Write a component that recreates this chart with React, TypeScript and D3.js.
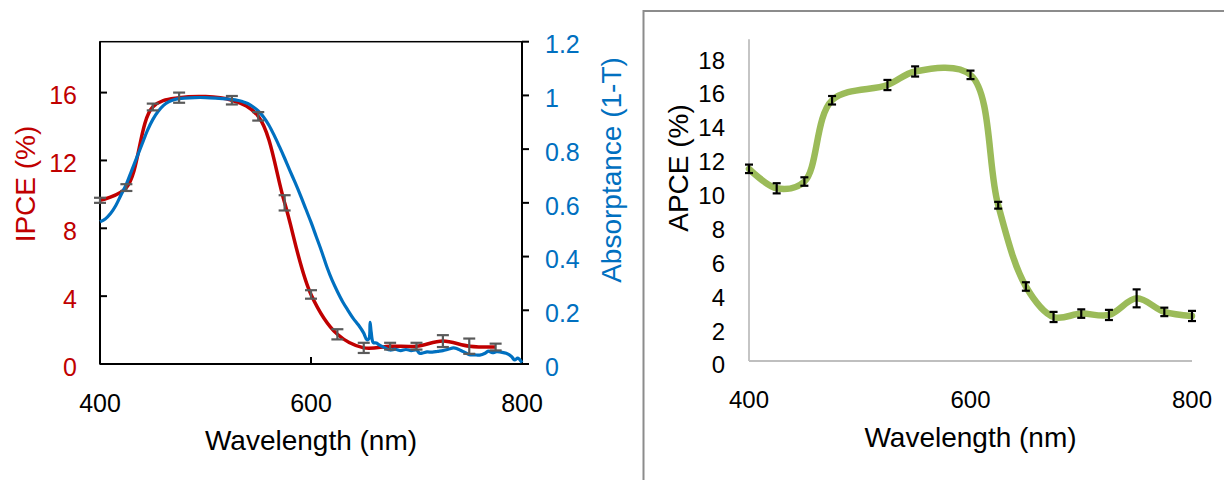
import React from "react";
import * as d3 from "d3";

// ---------- Left chart data ----------
const ipceWl = [400, 425, 450, 475, 525, 550, 575, 600, 625, 650, 675, 700, 725, 750, 775];
const ipceVal = [9.65, 10.4, 15.15, 15.7, 15.55, 14.6, 9.5, 4.1, 1.75, 0.95, 1.05, 1.05, 1.35, 1.05, 1.0];
const ipceErr = [0.15, 0.2, 0.2, 0.3, 0.25, 0.25, 0.45, 0.25, 0.3, 0.3, 0.2, 0.2, 0.35, 0.45, 0.2];

const absWl = [400, 405, 410, 415, 420, 425, 430, 435, 440, 445, 450, 455, 460, 465, 470, 475, 480, 490, 500, 510, 520, 530, 535, 540, 545, 550, 555, 560, 565, 570, 575, 580, 585, 590, 595, 600, 605, 610, 615, 620, 625, 630, 635, 640, 645, 650, 653, 655, 656, 657, 659, 662, 665, 670, 675, 680, 685, 690, 695, 700, 703, 706, 710, 715, 720, 725, 730, 735, 738, 742, 745, 750, 755, 760, 765, 768, 772, 776, 780, 785, 790, 793, 796, 800];
const absVal = [0.53, 0.54, 0.56, 0.59, 0.63, 0.67, 0.72, 0.77, 0.82, 0.87, 0.91, 0.94, 0.962, 0.976, 0.984, 0.988, 0.99, 0.992, 0.992, 0.99, 0.987, 0.982, 0.977, 0.97, 0.958, 0.942, 0.92, 0.89, 0.852, 0.81, 0.766, 0.72, 0.675, 0.628, 0.578, 0.528, 0.474, 0.42, 0.362, 0.312, 0.27, 0.232, 0.2, 0.17, 0.145, 0.115, 0.09, 0.095, 0.155, 0.12, 0.08, 0.078, 0.07, 0.06, 0.052, 0.055, 0.05, 0.054, 0.05, 0.052, 0.04, 0.041, 0.045, 0.044, 0.047, 0.05, 0.055, 0.06, 0.058, 0.05, 0.045, 0.035, 0.034, 0.033, 0.04, 0.048, 0.042, 0.046, 0.044, 0.04, 0.028, 0.015, 0.022, 0.005];

const leftXTicks = [400, 600, 800];
const ipceTicks = [0, 4, 8, 12, 16];
const absTicks = [0, 0.2, 0.4, 0.6, 0.8, 1.0, 1.2];
const absTickLabels = ["0", "0.2", "0.4", "0.6", "0.8", "1", "1.2"];

// ---------- Right chart data ----------
const apceWl = [400, 425, 450, 475, 525, 550, 600, 625, 650, 675, 700, 725, 750, 775, 800];
const apceVal = [11.35, 10.2, 10.6, 15.4, 16.3, 17.1, 16.9, 9.2, 4.4, 2.6, 2.8, 2.72, 3.7, 2.9, 2.66];
const apceErr = [0.25, 0.3, 0.25, 0.25, 0.3, 0.3, 0.25, 0.2, 0.25, 0.3, 0.25, 0.3, 0.53, 0.25, 0.3];
const rightXTicks = [400, 600, 800];
const apceTicks = [0, 2, 4, 6, 8, 10, 12, 14, 16, 18];

const FONT = "'Liberation Sans', Arial, sans-serif";
const RED = "#C00000";
const BLUE = "#0070C0";
const GREEN = "#9BBB59";

export default function App() {
  // left scales
  const xL = d3.scaleLinear().domain([400, 800]).range([100, 522]);
  const yIpce = d3.scaleLinear().domain([0, 19]).range([364, 41.7]);
  const yAbs = d3.scaleLinear().domain([0, 1.2]).range([364, 41.7]);

  const redLine = d3
    .line<number>()
    .x((_, i) => xL(ipceWl[i]))
    .y((d) => yIpce(d))
    .curve(d3.curveCatmullRom.alpha(0.5))(ipceVal) as string;
  const blueLine = d3
    .line<number>()
    .x((_, i) => xL(absWl[i]))
    .y((d) => yAbs(d))
    .curve(d3.curveCatmullRom.alpha(0.5))(absVal) as string;

  // right scales
  const xR = d3.scaleLinear().domain([400, 800]).range([749, 1192]);
  const yApce = d3.scaleLinear().domain([0, 19]).range([361, 39.3]);
  const greenLine = d3
    .line<number>()
    .x((_, i) => xR(apceWl[i]))
    .y((d) => yApce(d))
    .curve(d3.curveCatmullRom.alpha(0.5))(apceVal) as string;

  return (
    <svg
      width={1224}
      height={480}
      style={{ position: "absolute", left: 0, top: 0, background: "#fff" }}
      fontFamily={FONT}
    >
      <rect x={0} y={0} width={1224} height={480} fill="#fff" />
      {/* ===== LEFT CHART ===== */}
      <g>
        <rect x={xL(400)} y={yAbs(1.2)} width={xL(800) - xL(400)} height={yAbs(0) - yAbs(1.2)} fill="none" stroke="#000" strokeWidth={1.5} />
        <line x1={xL(400)} x2={xL(800)} y1={yIpce(0)} y2={yIpce(0)} stroke="#000" strokeWidth={2} />
        <line x1={xL(400)} x2={xL(400)} y1={yAbs(0)} y2={yAbs(1.2)} stroke="#000" strokeWidth={2} />
        <line x1={xL(800)} x2={xL(800)} y1={yAbs(0)} y2={yAbs(1.2)} stroke="#000" strokeWidth={2} />
        {ipceTicks.map((t) => (
          <g key={"lt" + t}>
            <line x1={xL(400)} x2={xL(400) + 7} y1={yIpce(t)} y2={yIpce(t)} stroke="#000" strokeWidth={2} />
            <text x={77} y={yIpce(t) + 3} dy="0.35em" textAnchor="end" fontSize={25} fill={RED}>
              {t}
            </text>
          </g>
        ))}
        {absTicks.map((t, i) => (
          <g key={"rt" + t}>
            <line x1={xL(800)} x2={xL(800) + 7} y1={yAbs(t)} y2={yAbs(t)} stroke="#000" strokeWidth={2} />
            <text x={545} y={yAbs(t) + 3} dy="0.35em" textAnchor="start" fontSize={25} fill={BLUE}>
              {absTickLabels[i]}
            </text>
          </g>
        ))}
        {leftXTicks.map((t) => (
          <g key={"bt" + t}>
            <line x1={xL(t)} x2={xL(t)} y1={yIpce(0)} y2={yIpce(0) - 7} stroke="#000" strokeWidth={2} />
            <text x={xL(t)} y={412} textAnchor="middle" fontSize={25} fill="#000">
              {t}
            </text>
          </g>
        ))}
        <path d={redLine} fill="none" stroke={RED} strokeWidth={3.5} />
        <path d={blueLine} fill="none" stroke={BLUE} strokeWidth={3.2} strokeLinejoin="round" />
        {ipceWl.map((w, i) => {
          const x = xL(w);
          const y1 = yIpce(ipceVal[i] - ipceErr[i]);
          const y2 = yIpce(ipceVal[i] + ipceErr[i]);
          return (
            <g key={"eb" + w} stroke="#5a5a5a" strokeWidth={2.2}>
              <line x1={x} x2={x} y1={y1} y2={y2} />
              <line x1={x - 6} x2={x + 6} y1={y1} y2={y1} />
              <line x1={x - 6} x2={x + 6} y1={y2} y2={y2} />
            </g>
          );
        })}
        <text x={(xL(400) + xL(800)) / 2} y={450} textAnchor="middle" fontSize={28} fill="#000">
          Wavelength (nm)
        </text>
        <text transform={`translate(35,184) rotate(-90)`} textAnchor="middle" fontSize={28} fill={RED}>
          IPCE (%)
        </text>
        <text transform={`translate(621,170) rotate(-90)`} textAnchor="middle" fontSize={28} fill={BLUE}>
          Absorptance (1-T)
        </text>
      </g>

      {/* ===== RIGHT CHART ===== */}
      <g>
        <rect x={643.5} y={11} width={700} height={600} fill="none" stroke="#8c8c8c" strokeWidth={2} />
        <line x1={xR(400)} x2={xR(400)} y1={yApce(0)} y2={yApce(19)} stroke="#BFBFBF" strokeWidth={1.8} />
        <line x1={xR(400)} x2={xR(800)} y1={yApce(0)} y2={yApce(0)} stroke="#BFBFBF" strokeWidth={1.8} />
        {apceTicks.map((t) => (
          <text key={"at" + t} x={725} y={yApce(t) + 4} dy="0.35em" textAnchor="end" fontSize={24} fill="#000">
            {t}
          </text>
        ))}
        {rightXTicks.map((t) => (
          <text key={"rx" + t} x={xR(t)} y={408} textAnchor="middle" fontSize={24} fill="#000">
            {t}
          </text>
        ))}
        <path d={greenLine} fill="none" stroke={GREEN} strokeWidth={6.5} strokeLinecap="round" />
        {apceWl.map((w, i) => {
          const x = xR(w);
          const y1 = yApce(apceVal[i] - apceErr[i]);
          const y2 = yApce(apceVal[i] + apceErr[i]);
          return (
            <g key={"ge" + w} stroke="#000" strokeWidth={2.2}>
              <line x1={x} x2={x} y1={y1} y2={y2} />
              <line x1={x - 4} x2={x + 4} y1={y1} y2={y1} />
              <line x1={x - 4} x2={x + 4} y1={y2} y2={y2} />
            </g>
          );
        })}
        <text x={(xR(400) + xR(800)) / 2} y={447} textAnchor="middle" fontSize={28} fill="#000">
          Wavelength (nm)
        </text>
        <text transform={`translate(688,168) rotate(-90)`} textAnchor="middle" fontSize={28} fill="#000">
          APCE (%)
        </text>
      </g>
    </svg>
  );
}
